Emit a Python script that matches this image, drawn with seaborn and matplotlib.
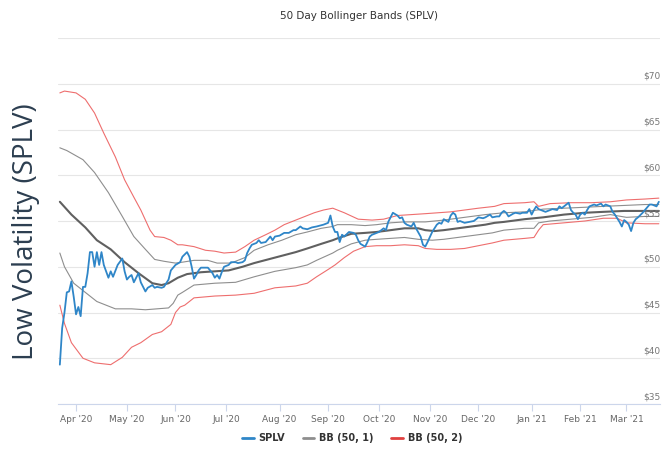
import numpy as np
import pandas as pd
import matplotlib
matplotlib.use("Agg")
import matplotlib.pyplot as plt
from matplotlib.lines import Line2D
from matplotlib.transforms import blended_transform_factory
import seaborn as sns

START_DATE = "2020-03-23"  # first trading session on the chart

# SPLV close, x = trading sessions since START_DATE
splv_session = [
    0, 1, 2, 3, 4, 5, 6, 7, 8, 9,
    10, 11, 12, 13, 14, 15, 16, 17, 18, 19,
    21, 22, 23, 25, 27, 28, 29, 30, 31, 32,
    34, 35, 37, 38, 40, 41, 42, 44, 45, 47,
    48, 50, 52, 53, 55, 56, 57, 58, 59, 60,
    61, 64, 65, 66, 67, 68, 69, 70, 71, 73,
    74, 76, 77, 79, 80, 81, 82, 83, 85, 86,
    87, 89, 91, 92, 93, 95, 97, 99, 101, 102,
    104, 105, 107, 109, 111, 114, 116, 117, 118, 119,
    120, 121, 122, 123, 125, 127, 128, 129, 130, 132,
    133, 134, 135, 137, 138, 140, 141, 142, 143, 144,
    146, 147, 148, 149, 150, 152, 153, 154, 156, 157,
    158, 159, 161, 163, 164, 165, 166, 168, 169, 170,
    171, 172, 173, 175, 177, 179, 180, 181, 183, 184,
    186, 187, 189, 190, 191, 192, 193, 194, 196, 197,
    199, 200, 202, 203, 204, 205, 206, 207, 209, 210,
    212, 213, 215, 216, 217, 219, 220, 221, 222, 223,
    224, 225, 226, 227, 228, 229, 231, 232, 234, 235,
    236, 238, 239, 240, 241, 242, 243, 244, 245, 246,
    247, 248, 249, 250, 252, 253, 255, 256, 258, 259,
]
splv_price = [
    39.3, 43.3, 45.0, 47.2, 47.3, 48.4, 46.7, 44.8, 45.6, 44.6,
    47.8, 47.8, 49.3, 51.6, 51.6, 50.0, 51.6, 50.2, 51.6, 50.2,
    48.8, 49.5, 48.9, 50.2, 50.9, 49.5, 48.6, 48.9, 49.1, 48.3,
    49.3, 48.3, 47.3, 47.7, 48.0, 47.7, 47.8, 47.7, 47.8, 48.6,
    49.6, 50.2, 50.5, 51.1, 51.6, 51.1, 50.0, 48.7, 49.1, 49.6,
    49.9, 49.9, 49.6, 49.3, 48.8, 49.1, 48.7, 49.4, 50.0, 50.2,
    50.5, 50.5, 50.4, 50.5, 50.7, 51.5, 52.0, 52.4, 52.6, 52.9,
    52.6, 52.7, 53.3, 52.9, 53.3, 53.4, 53.7, 53.7, 54.0, 54.0,
    54.4, 54.2, 54.1, 54.3, 54.4, 54.6, 54.8, 55.6, 54.4, 53.8,
    53.8, 52.7, 53.5, 53.3, 53.8, 53.7, 53.5, 52.9, 52.5, 52.2,
    52.7, 53.3, 53.5, 53.7, 53.8, 54.2, 54.0, 54.9, 55.4, 55.9,
    55.6, 55.3, 55.4, 54.8, 54.6, 54.4, 54.8, 54.2, 53.3, 52.4,
    52.2, 52.7, 53.8, 54.6, 54.8, 54.7, 55.2, 54.9, 55.6, 55.9,
    55.7, 54.9, 55.0, 54.8, 54.9, 55.0, 55.2, 55.4, 55.3, 55.4,
    55.7, 55.4, 55.5, 55.5, 55.9, 56.1, 55.9, 55.5, 55.8, 55.9,
    55.8, 55.9, 55.9, 56.3, 55.7, 56.2, 56.6, 56.3, 56.1, 56.0,
    56.2, 56.3, 56.2, 56.6, 56.4, 56.8, 57.0, 56.2, 55.9, 55.7,
    55.2, 55.7, 55.9, 55.7, 56.2, 56.6, 56.8, 56.7, 56.9, 56.6,
    56.8, 56.6, 56.0, 55.7, 55.3, 54.9, 54.4, 55.1, 54.9, 54.6,
    53.9, 54.8, 55.2, 55.4, 55.9, 56.2, 56.8, 56.8, 56.6, 57.1,
]

# 50-day moving average (middle band)
mid_session = [0, 5, 11, 16, 22, 28, 34, 40, 44, 47, 51, 53, 55, 61, 67, 73, 79, 84,
               90, 96, 102, 107, 113, 118, 120, 126, 132, 137, 143, 149, 155, 158,
               162, 166, 172, 178, 184, 188, 192, 201, 209, 218, 227, 235, 244, 253, 259]
mid_price = [57.1, 55.7, 54.3, 52.9, 51.9, 50.5, 49.3, 48.2, 48.0, 48.2, 48.8, 49.0, 49.2,
             49.4, 49.5, 49.6, 50.0, 50.4, 50.8, 51.2, 51.6, 52.0, 52.5, 52.9, 53.1, 53.6,
             53.7, 53.8, 54.0, 54.2, 54.2, 54.0, 53.9, 54.0, 54.2, 54.4, 54.6, 54.8, 54.9,
             55.2, 55.4, 55.7, 55.9, 56.0, 56.1, 56.1, 56.1]

# BB (50, 1)
up1_session = [0, 3, 10, 15, 21, 27, 32, 37, 41, 45, 50, 53, 58, 64, 68, 74, 80, 84, 90,
               96, 102, 107, 113, 118, 120, 126, 132, 137, 143, 149, 158, 166, 175, 184,
               192, 201, 209, 218, 227, 235, 244, 253, 259]
up1_price = [63.0, 62.7, 61.7, 60.3, 58.1, 55.5, 53.3, 51.9, 50.8, 50.6, 50.4, 50.5, 50.7,
             50.7, 50.4, 50.4, 51.0, 51.8, 52.4, 52.9, 53.5, 53.8, 54.2, 54.4, 54.6, 54.6,
             54.5, 54.6, 54.8, 54.9, 54.9, 55.1, 55.4, 55.7, 55.9, 56.0, 56.3, 56.4, 56.5,
             56.6, 56.7, 56.8, 56.8]
lo1_session = [0, 2, 6, 11, 16, 24, 31, 37, 42, 47, 49, 51, 53, 58, 67, 76, 84, 93, 102,
               107, 111, 118, 120, 126, 132, 137, 143, 149, 155, 161, 166, 172, 178, 187,
               192, 201, 205, 207, 212, 221, 230, 238, 245, 253, 259]
lo1_price = [51.5, 50.0, 48.2, 47.2, 46.2, 45.4, 45.4, 45.3, 45.4, 45.5, 46.0, 46.9, 47.2,
             48.0, 48.2, 48.3, 48.9, 49.5, 49.9, 50.2, 50.7, 51.5, 51.8, 52.5, 52.9, 53.0,
             53.1, 53.2, 53.0, 52.9, 53.0, 53.2, 53.4, 53.7, 54.0, 54.2, 54.2, 54.8, 55.0,
             55.2, 55.4, 55.7, 55.4, 55.5, 55.5]

# BB (50, 2)
up2_session = [0, 2, 7, 11, 15, 19, 24, 28, 32, 35, 39, 41, 45, 48, 51, 53, 58, 63, 67,
               71, 76, 80, 84, 89, 93, 97, 102, 106, 110, 114, 118, 123, 129, 135, 140,
               146, 158, 169, 181, 188, 192, 201, 205, 207, 212, 221, 230, 238, 245, 253, 259]
up2_price = [69.0, 69.2, 69.0, 68.3, 66.8, 64.6, 62.0, 59.5, 57.6, 56.2, 54.0, 53.3, 53.2,
             52.9, 52.4, 52.4, 52.2, 51.8, 51.7, 51.5, 51.6, 52.2, 52.9, 53.5, 54.0, 54.6,
             55.1, 55.5, 55.9, 56.2, 56.4, 55.9, 55.2, 55.1, 55.2, 55.6, 55.8, 56.0, 56.4,
             56.6, 56.9, 57.0, 57.1, 56.6, 56.9, 57.0, 57.0, 57.1, 57.3, 57.4, 57.5]
lo2_session = [0, 2, 5, 10, 15, 22, 27, 31, 35, 40, 44, 48, 50, 52, 54, 58, 67, 76, 84,
               93, 102, 107, 111, 116, 119, 123, 127, 132, 137, 143, 149, 155, 158, 163,
               169, 175, 181, 187, 192, 201, 205, 207, 209, 218, 227, 235, 241, 245, 253, 259]
lo2_price = [45.8, 43.8, 41.7, 40.0, 39.5, 39.3, 40.1, 41.2, 41.7, 42.6, 42.9, 43.7, 45.0,
             45.6, 45.8, 46.6, 46.8, 46.9, 47.1, 47.7, 47.9, 48.2, 48.9, 49.7, 50.2, 51.0,
             51.7, 52.2, 52.3, 52.3, 52.4, 52.3, 52.0, 51.9, 51.9, 52.0, 52.3, 52.6, 52.9,
             53.1, 53.2, 54.0, 54.6, 54.8, 55.0, 55.3, 55.3, 54.8, 54.7, 54.7]

MONTHS = ["2020-04-01", "2020-05-01", "2020-06-01", "2020-07-01", "2020-08-01",
          "2020-09-01", "2020-10-01", "2020-11-01", "2020-12-01", "2021-01-01",
          "2021-02-01", "2021-03-01"]
PRICE_GRID = [35, 40, 45, 50, 55, 60, 65, 70, 75]
PRICE_LABELS = [35, 40, 45, 50, 55, 60, 65, 70]

BLUE = "#2f86c8"
GREY = "#8e8e8e"
DARK = "#606060"
RED = "#ee6e6e"
AXIS = "#ccd6eb"


def main():
    sns.set_theme(style="white")
    plt.rcParams["font.family"] = ["DejaVu Sans"]

    fig = plt.figure(figsize=(6.64, 4.49), dpi=100)
    ax = fig.add_axes([58 / 664, 1 - 404 / 449, 602 / 664, 366 / 449])

    band_style = [
        (up2_session, up2_price, RED, 0.8),
        (lo2_session, lo2_price, RED, 0.8),
        (up1_session, up1_price, GREY, 0.8),
        (lo1_session, lo1_price, GREY, 0.8),
        (mid_session, mid_price, DARK, 1.5),
    ]
    for sess, price, col, lw in band_style:
        sns.lineplot(x=sess, y=price, ax=ax, color=col, linewidth=lw)
    sns.lineplot(x=splv_session, y=splv_price, ax=ax, color=BLUE, linewidth=1.3)

    ax.set_xlim(-0.8, 259.5)
    ax.set_ylim(35, 75)

    # horizontal grid only
    ax.set_yticks(PRICE_GRID)
    ax.yaxis.grid(True, color="#e6e6e6", linewidth=0.8)
    ax.xaxis.grid(False)
    ax.tick_params(axis="y", left=False, right=False, labelleft=False)
    for side in ["left", "right", "top"]:
        ax.spines[side].set_visible(False)
    ax.spines["bottom"].set_color(AXIS)
    ax.spines["bottom"].set_linewidth(0.8)

    trans = blended_transform_factory(ax.transAxes, ax.transData)
    for v in PRICE_LABELS:
        ax.annotate(f"${v}", xy=(1.0, v), xycoords=trans, xytext=(0, 2),
                    textcoords="offset points", ha="right", va="bottom",
                    fontsize=6.5, color="#777777")

    tick_pos = np.busday_count(START_DATE, MONTHS)
    tick_lab = [pd.Timestamp(m).strftime("%b '%y") for m in MONTHS]
    ax.set_xticks(tick_pos)
    ax.set_xticklabels(tick_lab, fontsize=6.5, color="#666666")
    ax.tick_params(axis="x", bottom=True, length=5, width=0.8, color=AXIS, pad=3)
    ax.set_xlabel("")
    ax.set_ylabel("")

    fig.text(359 / 664, 1 - 16 / 449, "50 Day Bollinger Bands (SPLV)", ha="center",
             va="center", fontsize=7.5, color="#333333")
    fig.text(26 / 664, 1 - 232 / 449, "Low Volatility (SPLV)", rotation=90,
             ha="center", va="center", fontsize=20, color="#2c3e50",
             family=["Open Sans", "DejaVu Sans"])

    handles = [Line2D([], [], color=BLUE, lw=2),
               Line2D([], [], color=GREY, lw=2),
               Line2D([], [], color="#e0403f", lw=2)]
    leg = fig.legend(handles, ["SPLV", "BB (50, 1)", "BB (50, 2)"], loc="center",
                     bbox_to_anchor=(352 / 664, 1 - 438 / 449), ncol=3, frameon=False,
                     fontsize=7, handlelength=1.2, handletextpad=0.5, columnspacing=1.8)
    for t in leg.get_texts():
        t.set_fontweight("bold")
        t.set_color("#333333")

    fig.savefig("out.png", dpi=100)
    plt.close(fig)


if __name__ == "__main__":
    main()
